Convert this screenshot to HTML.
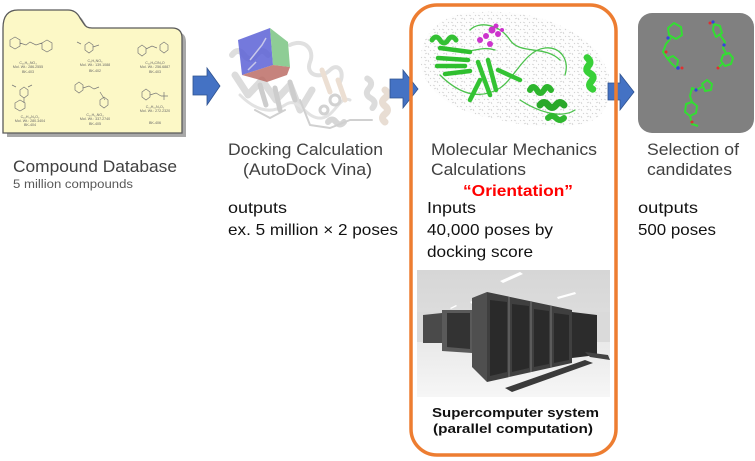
<!DOCTYPE html>
<html><head><meta charset="utf-8"><style>
html,body{margin:0;padding:0;background:#fff;}
svg{display:block;}
</style></head><body>
<svg width="755" height="461" viewBox="0 0 755 461" xmlns="http://www.w3.org/2000/svg">
<defs>
<pattern id="dots" width="9" height="7" patternUnits="userSpaceOnUse">
<rect width="9" height="7" fill="#fdfdfd"/>
<path d="M1,1 l2,1 M5,4 l1,2 M7,1 l1,1 M2,5 l2,-1" stroke="#c4c4c4" stroke-width="0.6"/>
</pattern>
<linearGradient id="ceil" x1="0" y1="0" x2="0" y2="1">
<stop offset="0" stop-color="#d6d6d6"/><stop offset="1" stop-color="#e8e8e8"/>
</linearGradient>
<linearGradient id="floor" x1="0" y1="0" x2="0" y2="1">
<stop offset="0" stop-color="#e9e9e9"/><stop offset="1" stop-color="#f6f6f6"/>
</linearGradient>
</defs>

<!-- Folder -->
<path d="M7,137 L7,32 Q7,14 22,14 L72,14 Q80,14 84,22 L88,28 Q90,32 96,32 L176,32 Q186,32 186,42 L186,137 Z" fill="#a8a8a8"/>
<path d="M3,133 L3,28 Q3,10 18,10 L68,10 Q76,10 80,18 L84,24 Q86,28 92,28 L172,28 Q182,28 182,38 L182,133 Z" fill="#fcf8c6" stroke="#5a5a5a" stroke-width="1.3"/>
<g stroke="#777" stroke-width="0.7" fill="none">
<path d="M10,40 l5,-3 l5,3 l0,6 l-5,3 l-5,-3z M20,43 l6,2 l4,-3 l6,3 l6,-2 M42,43 l5,-3 l5,3 l0,6 l-5,3 l-5,-3z"/>
<path d="M85,45 l4,-3 l4,3 l0,5 l-4,3 l-4,-3z M93,47 l6,-2 M81,44 l-4,-2"/>
<path d="M138,48 l4,-3 l4,3 l0,5 l-4,3 l-4,-3z M146,49 l6,-3 l5,2 M160,45 l4,-3 l4,3 l0,5 l-4,3 l-4,-3z"/>
<path d="M20,90 l4,-3 l4,3 l0,5 l-4,3 l-4,-3z M24,98 l0,5 M15,103 l5,-3 l5,3 l0,5 l-5,3 l-5,-3z M16,87 l-4,-2 M28,87 l4,-2"/>
<path d="M75,85 l4,-3 l4,3 l0,5 l-4,3 l-4,-3z M83,88 l6,-2 l5,3 l5,-2 M100,92 l5,8 M100,100 l4,-3 l4,3 l0,5 l-4,3 l-4,-3z"/>
<path d="M142,92 l4,-3 l4,3 l0,5 l-4,3 l-4,-3z M150,95 l6,-2 l5,3 M161,96 l7,0 M164,92 l0,8"/>
</g>
<g font-family="Liberation Sans, sans-serif" font-size="3.6" fill="#666" text-anchor="middle">
<text x="28" y="64">C₁₆H₁₅NO₃</text><text x="28" y="68">Mol. Wt.: 286.2555</text><text x="28" y="73">BK-403</text>
<text x="95" y="62">C₆H₅NO₃</text><text x="95" y="66">Mol. Wt.: 139.1088</text><text x="95" y="72">BK-402</text>
<text x="155" y="64">C₁₄H₉ClN₂O</text><text x="155" y="68">Mol. Wt.: 256.6887</text><text x="155" y="73">BK-403</text>
<text x="30" y="118">C₁₆H₁₆N₂O₂</text><text x="30" y="122">Mol. Wt.: 280.3404</text><text x="30" y="126">BK-404</text>
<text x="95" y="116">C₁₅H₁₂NO₄</text><text x="95" y="120">Mol. Wt.: 337.2740</text><text x="95" y="125">BK-405</text>
<text x="155" y="108">C₁₁H₁₅N₂O₂</text><text x="155" y="112">Mol. Wt.: 272.2320</text><text x="155" y="124">BK-406</text>
</g>

<!-- Docking protein image -->
<g fill="none" stroke-linecap="round" stroke-linejoin="round">
<path d="M232,55 q6,-8 12,0 q6,8 12,0 q6,-8 12,0" stroke="#dedede" stroke-width="6"/>
<path d="M235,75 L248,95 L262,80 L276,100 L290,85 L300,110 L312,90" stroke="#dcdcdc" stroke-width="7"/>
<path d="M240,95 C255,110 270,115 285,105 C300,95 305,120 322,118 C335,116 340,95 350,100" stroke="#e2e2e2" stroke-width="3"/>
<path d="M290,45 C305,38 315,50 310,62 C305,75 320,80 330,70 C338,62 345,72 340,82" stroke="#e0e0e0" stroke-width="4"/>
<path d="M322,70 L330,92 M338,80 L345,100" stroke="#ecdfd3" stroke-width="5"/>
<path d="M345,85 q5,-6 10,0 q5,6 10,0 q5,-6 10,0" stroke="#dcdcdc" stroke-width="6" transform="rotate(80 360 95)"/>
<path d="M355,80 q4,-5 8,0 q4,5 8,0 q4,-5 8,0 q4,5 8,0" stroke="#e8ddd3" stroke-width="7" transform="rotate(90 365 100)"/>
<path d="M330,100 a5,5 0 1,0 10,0 a5,5 0 1,0 -10,0 M320,110 a4,4 0 1,0 8,0 a4,4 0 1,0 -8,0" stroke="#d2d2d2" stroke-width="3"/>
<path d="M328,122 q4,-5 8,0 q4,5 8,0" stroke="#d6d6d6" stroke-width="6"/>
<path d="M255,110 L270,118 L285,110 M300,100 L310,125 L330,128 L350,120 L372,120" stroke="#d0d0d0" stroke-width="2"/>
<path d="M260,85 L266,105 M275,88 L280,110 M290,82 L295,100" stroke="#cdcdcd" stroke-width="5"/>
</g>
<polygon points="238,40 270,28 273,65 242,75" fill="#5c62d6" fill-opacity="0.85"/>
<polygon points="270,28 288,42 290,67 273,65" fill="#72c17a" fill-opacity="0.8"/>
<polygon points="242,75 273,65 290,67 287,75 267,82 253,78" fill="#b8645c" fill-opacity="0.8"/>
<path d="M250,60 L262,45 L266,38 M248,70 L256,62" stroke="#c8c8ea" stroke-width="1.5" fill="none"/>

<!-- Green protein image -->
<path d="M425,40 Q440,12 480,12 Q530,10 565,28 Q602,45 610,80 Q612,118 582,124 Q540,130 500,120 Q450,112 430,86 Q414,64 425,40Z" fill="url(#dots)"/>
<g fill="none" stroke-linecap="round" stroke-linejoin="round">
<path d="M440,75 C460,95 480,100 500,88 C515,78 525,50 545,48 C560,46 570,60 565,75 M470,30 C480,20 500,25 510,40 C520,55 545,45 560,60 M520,100 C535,110 560,120 575,110 M455,50 C470,55 480,45 495,50" stroke="#4cc24c" stroke-width="1.3"/>
<path d="M440,48 L470,52 M438,58 L468,60 M437,66 L465,66 M445,74 L470,71" stroke="#2fbf2f" stroke-width="4.5"/>
<path d="M432,40 q4,-6 8,0 q4,6 8,0 q4,-6 8,0" stroke="#33c033" stroke-width="5"/>
<path d="M478,62 L490,95 M488,60 L496,90 M498,70 L520,80 M480,80 L470,100" stroke="#33c333" stroke-width="4.5"/>
<path d="M530,90 q3,-6 7,0 q3,6 7,0 q3,-6 7,0" stroke="#2db52d" stroke-width="6"/>
<path d="M560,60 q5,-4 8,0 q4,5 8,0 q4,-5 8,0 q4,5 8,0" stroke="#38d038" stroke-width="7" transform="rotate(80 575 75)"/>
<path d="M540,105 q4,-5 8,0 q4,5 8,0 q4,-5 8,0" stroke="#2aa82a" stroke-width="7"/>
<path d="M548,118 q4,-4 8,0 q4,4 8,0" stroke="#2fb82f" stroke-width="6"/>
</g>
<g fill="#cc33cc">
<circle cx="480" cy="40" r="3"/><circle cx="486" cy="36" r="3"/><circle cx="492" cy="30" r="3.5"/><circle cx="498" cy="34" r="3"/><circle cx="490" cy="44" r="3"/><circle cx="496" cy="26" r="2.5"/><circle cx="502" cy="30" r="2"/>
</g>

<!-- Supercomputer photo -->
<rect x="417" y="270" width="193" height="127" fill="url(#ceil)"/>
<rect x="417" y="312" width="193" height="35" fill="#dadada"/>
<rect x="417" y="342" width="193" height="55" fill="url(#floor)"/>
<g fill="#ffffff">
<polygon points="500,281 520,272 523,274 503,283"/>
<polygon points="470,302 478,298 480,300 472,304"/>
<polygon points="557,297 575,292 576,294 558,299"/>
<polygon points="450,308 456,305 457,306 451,309"/>
</g>
<polygon points="423,315 442,313 442,343 423,343" fill="#4a4a4a"/>
<polygon points="442,310 472,310 472,353 442,351" fill="#5a5a5a"/>
<polygon points="447,313 470,313 470,349 447,347" fill="#333"/>
<polygon points="572,312 597,315 597,355 572,358" fill="#2c2c2c"/>
<polygon points="472,298 487,292 487,382 472,367" fill="#4f4f4f"/>
<polygon points="487,292 572,310 572,363 487,382" fill="#3f3f3f"/>
<g stroke="#777" stroke-width="1">
<line x1="509" y1="297" x2="509" y2="377"/><line x1="531" y1="301" x2="531" y2="372"/><line x1="551" y1="306" x2="551" y2="367"/>
</g>
<g fill="#2a2a2a">
<polygon points="490,300 507,302 507,372 490,376"/><polygon points="512,304 529,306 529,368 512,372"/><polygon points="534,309 549,311 549,364 534,367"/><polygon points="554,313 569,315 569,360 554,363"/>
</g>
<polygon points="512,392 505,388 585,360 593,363" fill="#3a3a3a"/>
<polygon points="585,352 608,355 610,360 590,357" fill="#444"/>

<!-- Molecules gray box -->
<rect x="638" y="13" width="116" height="120" rx="14" fill="#808080"/>
<g fill="none" stroke="#33dd33" stroke-width="2" stroke-linejoin="round">
<path d="M668,28 L674,23 L681,27 L682,35 L676,39 L669,35Z M671,38 L666,44 L663,52 L667,58 L672,64 L677,68 M668,58 L673,56 L678,60 L677,66"/>
<path d="M714,24 L720,26 L722,33 L716,37 L713,30Z M720,35 L725,42 L723,48 L727,55 M723,55 L729,53 L733,58 L731,64 L725,66 L721,61Z M722,64 L718,68"/>
<path d="M702,84 L707,80 L712,84 L711,90 L705,91Z M702,87 L696,90 L692,88 L690,96 L692,102 M686,104 L692,102 L697,106 L696,113 L690,116 L685,112Z M690,116 L692,124 L698,126"/>
</g>
<g>
<circle cx="668" cy="38" r="1.6" fill="#3344dd"/><circle cx="678" cy="68" r="1.8" fill="#3344dd"/><circle cx="682" cy="68" r="1.5" fill="#e03030"/><circle cx="666" cy="52" r="1.5" fill="#e03030"/>
<circle cx="713" cy="22" r="1.6" fill="#3344dd"/><circle cx="710" cy="23" r="1.5" fill="#e03030"/><circle cx="724" cy="45" r="1.6" fill="#3344dd"/><circle cx="718" cy="68" r="1.5" fill="#e03030"/>
<circle cx="696" cy="90" r="1.6" fill="#3344dd"/><circle cx="692" cy="122" r="1.5" fill="#e03030"/>
</g>

<!-- Arrows -->
<g fill="#4472c4" stroke="#2f528f" stroke-width="0.8">
<polygon points="193,76 207,76 207,68 220,86 207,105 207,95 193,95"/>
<polygon points="390,79 403,79 403,70 418,89 403,108 403,98 390,98"/>
<polygon points="608,83 620,83 620,74 634,92 620,110 620,100 608,100"/>
</g>

<!-- Orange frame -->
<rect x="411" y="5" width="205" height="450" rx="26" fill="none" stroke="#ed7d31" stroke-width="3.5"/>

<!-- Texts -->
<g font-family="Liberation Sans, 'Noto Sans CJK JP', sans-serif">
<text x="13" y="172" font-size="17" fill="#404040" textLength="164" lengthAdjust="spacingAndGlyphs">Compound Database</text>
<text x="13" y="188" font-size="11.5" fill="#595959" textLength="120" lengthAdjust="spacingAndGlyphs">5 million compounds</text>
<text x="228" y="155" font-size="17" fill="#404040" textLength="155" lengthAdjust="spacingAndGlyphs">Docking Calculation</text>
<text x="243" y="175" font-size="17" fill="#404040" textLength="129" lengthAdjust="spacingAndGlyphs">(AutoDock Vina)</text>
<text x="228" y="213" font-size="16" fill="#111" textLength="59" lengthAdjust="spacingAndGlyphs">outputs</text>
<text x="228" y="235" font-size="16" fill="#111" textLength="170" lengthAdjust="spacingAndGlyphs">ex. 5 million × 2 poses</text>
<text x="431" y="155" font-size="17" fill="#404040" textLength="166" lengthAdjust="spacingAndGlyphs">Molecular Mechanics</text>
<text x="431" y="175" font-size="17" fill="#404040" textLength="95" lengthAdjust="spacingAndGlyphs">Calculations</text>
<text x="463" y="196" font-size="16" font-weight="bold" fill="#ff0000" textLength="110" lengthAdjust="spacingAndGlyphs">“Orientation”</text>
<text x="427" y="213" font-size="16" fill="#111" textLength="49" lengthAdjust="spacingAndGlyphs">Inputs</text>
<text x="427" y="235" font-size="16" fill="#111" textLength="126" lengthAdjust="spacingAndGlyphs">40,000 poses by</text>
<text x="427" y="257" font-size="16" fill="#111" textLength="106" lengthAdjust="spacingAndGlyphs">docking score</text>
<text x="647" y="155" font-size="17" fill="#404040" textLength="92" lengthAdjust="spacingAndGlyphs">Selection of</text>
<text x="647" y="175" font-size="17" fill="#404040" textLength="85" lengthAdjust="spacingAndGlyphs">candidates</text>
<text x="638" y="213" font-size="16" fill="#111" textLength="60" lengthAdjust="spacingAndGlyphs">outputs</text>
<text x="638" y="235" font-size="16" fill="#111" textLength="78" lengthAdjust="spacingAndGlyphs">500 poses</text>
<text x="432" y="417" font-size="13" font-weight="bold" fill="#111" textLength="167" lengthAdjust="spacingAndGlyphs">Supercomputer system</text>
<text x="433" y="433" font-size="13" font-weight="bold" fill="#111" textLength="160" lengthAdjust="spacingAndGlyphs">(parallel computation)</text>
</g>
</svg>
</body></html>
